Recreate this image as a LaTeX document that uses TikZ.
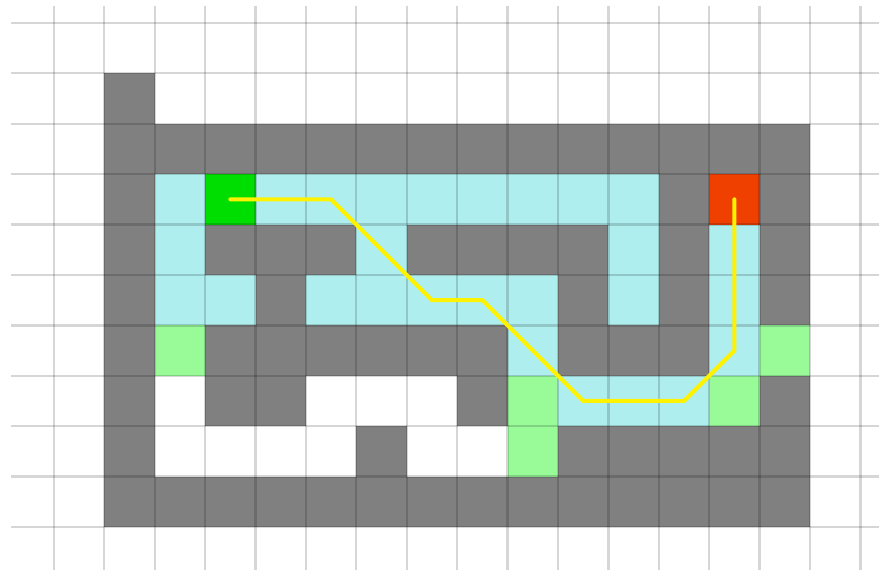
\documentclass[tikz,border=0pt]{standalone}
\definecolor{wall}{RGB}{128,128,128}
\definecolor{visited}{RGB}{175,238,238}
\definecolor{frontier}{RGB}{152,251,152}
\definecolor{startcell}{RGB}{0,221,0}
\definecolor{goalcell}{RGB}{240,64,0}
\begin{document}
\begin{tikzpicture}[line join=round, line cap=round,
	gridline/.style={black, opacity=0.16, line width=1.3pt, line cap=butt},
	route/.style={yellow, line width=2.3pt}]
	\useasboundingbox (-0.07,0.455) rectangle (17.37,-10.85);
	% walls
	\foreach \r/\cols in {1/{2}, 2/{2,...,15}, 3/{2,13,15}, 4/{2,4,5,6,8,9,10,11,13,15},
		5/{2,5,11,13,15}, 6/{2,4,5,6,7,8,9,11,12,13}, 7/{2,4,5,9,15},
		8/{2,7,11,12,13,14,15}, 9/{2,...,15}}
	\foreach \c in \cols
	\fill[wall] (\c,-\r) rectangle ++(1,-1);
	% explored cells
	\foreach \r/\cols in {3/{3,5,6,7,8,9,10,11,12}, 4/{3,7,12,14},
		5/{3,4,6,7,8,9,10,12,14}, 6/{10,14}, 7/{11,12,13}}
	\foreach \c in \cols
	\fill[visited] (\c,-\r) rectangle ++(1,-1);
	\foreach \c/\r in {3/6, 15/6, 10/7, 14/7, 10/8}
	\fill[frontier] (\c,-\r) rectangle ++(1,-1);
	\fill[startcell] (4,-3) rectangle ++(1,-1);
	\fill[goalcell] (14,-3) rectangle ++(1,-1);
	% grid
	\foreach \x in {1,...,17}
	\draw[gridline] (\x,0.34) -- (\x,-10.85);
	\foreach \y in {0,...,10}
	\draw[gridline] (0.15,-\y) -- (17.37,-\y);
	% route
	\path (4.5,-3.5) coordinate (S)
	(6.5,-3.5) coordinate (P1)
	(8.5,-5.5) coordinate (P2)
	(9.5,-5.5) coordinate (P3)
	(11.5,-7.5) coordinate (P4)
	(13.5,-7.5) coordinate (P5)
	(14.5,-6.5) coordinate (P6)
	(14.5,-3.5) coordinate (G);
	\draw[route] (S) -- (P1) -- (P2) -- (P3) -- (P4) -- (P5) -- (P6) -- (G);
\end{tikzpicture}
\end{document}
